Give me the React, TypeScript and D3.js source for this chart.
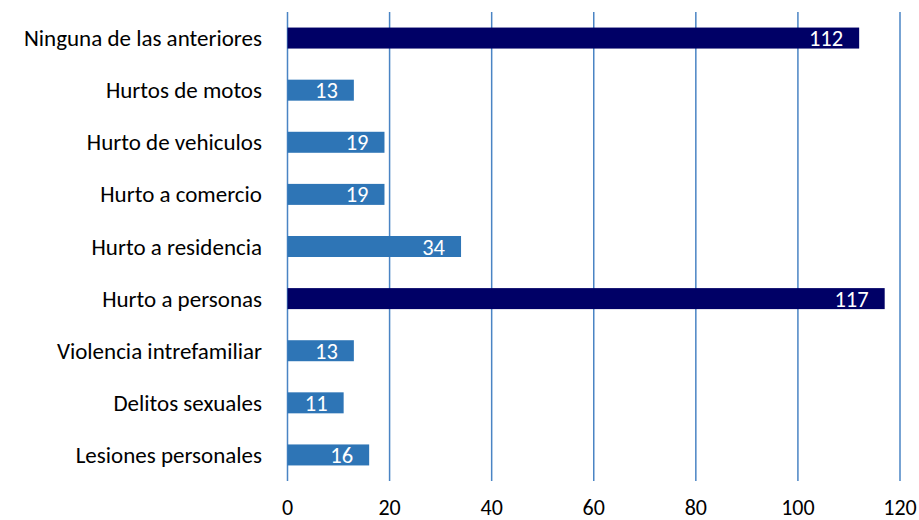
import * as React from 'react';
import * as d3 from 'd3';

const categories = [
  'Ninguna de las anteriores',
  'Hurtos de motos',
  'Hurto de vehiculos',
  'Hurto a comercio',
  'Hurto a residencia',
  'Hurto a personas',
  'Violencia intrefamiliar',
  'Delitos sexuales',
  'Lesiones personales',
];
const values = [112, 13, 19, 19, 34, 117, 13, 11, 16];
const highlighted = [true, false, false, false, false, true, false, false, false];
const ticks = [0, 20, 40, 60, 80, 100, 120];

const width = 919;
const height = 520;
const font = 'Carlito, Calibri, Lato, "Open Sans", sans-serif';

export default function App() {
  const x = d3.scaleLinear().domain([0, 120]).range([287.5, 900]);
  const band = d3.scaleBand<string>().domain(categories).range([12, 481]);

  return (
    <svg width={width} height={height} style={{position: 'absolute', left: 0, top: 0, background: '#fff'}}>
      <g>
        {ticks.map(t => (
          <line key={t} x1={x(t)} x2={x(t)} y1={12} y2={481} stroke="#4a84c4" strokeWidth={1.5} />
        ))}
      </g>
      <g>
        {categories.map((c, i) => {
          const cy = band(c)! + band.bandwidth() / 2;
          const bh = 21;
          return (
            <g key={c}>
              <rect x={x(0)} y={cy - bh / 2} width={x(values[i]) - x(0)} height={bh}
                fill={highlighted[i] ? '#000066' : '#2e75b6'} />
              <text x={x(values[i]) - 16} y={cy + 8} textAnchor="end" fill="#fff"
                fontFamily={font} fontSize={22.5}>{values[i]}</text>
              <text x={262} y={cy + 8} textAnchor="end" fill="#000"
                fontFamily={font} fontSize={23}>{c}</text>
            </g>
          );
        })}
      </g>
      <g>
        {ticks.map(t => (
          <text key={t} x={x(t)} y={515} textAnchor="middle" fill="#000"
            fontFamily={font} fontSize={22}>{t}</text>
        ))}
      </g>
    </svg>
  );
}
